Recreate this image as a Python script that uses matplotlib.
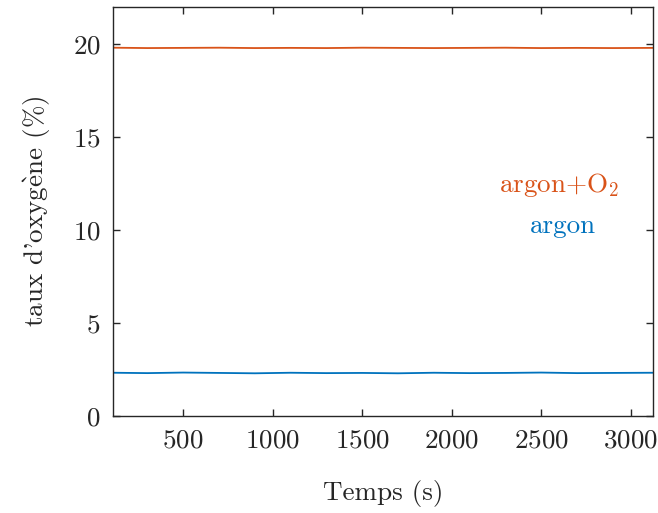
import matplotlib
matplotlib.use("Agg")
import matplotlib.pyplot as plt

plt.rcParams['font.family'] = 'serif'
plt.rcParams['font.serif'] = ['cmr10', 'DejaVu Serif']
plt.rcParams['mathtext.fontset'] = 'cm'
plt.rcParams['axes.formatter.use_mathtext'] = True

# temps (s) et taux d'oxygene (%)
t = [110, 300, 500, 700, 900, 1100, 1300, 1500, 1700, 1900, 2100, 2300, 2500, 2700, 2900, 3120]
argon_o2 = [19.82, 19.80, 19.81, 19.82, 19.80, 19.81, 19.80, 19.82, 19.81, 19.80, 19.81, 19.82, 19.80, 19.81, 19.80, 19.81]
argon = [2.33, 2.31, 2.34, 2.32, 2.30, 2.33, 2.31, 2.32, 2.30, 2.33, 2.31, 2.32, 2.34, 2.31, 2.32, 2.33]

blue = '#0072BD'
orange = '#D95319'
grey = '#262626'
fs = 19.5

fig = plt.figure(figsize=(6.58, 5.13), dpi=100)
ax = fig.add_axes([0.172, 0.189, 0.820, 0.797])

ax.plot(t, argon, color=blue, lw=1.3)
ax.plot(t, argon_o2, color=orange, lw=1.3)

ax.set_xlim(109, 3123)
ax.set_ylim(0, 22)
ax.set_xticks([500, 1000, 1500, 2000, 2500, 3000])
ax.set_yticks([0, 5, 10, 15, 20])

ax.text(2600, 12.45, r'argon+O$_2$', color=orange, fontsize=fs, ha='center', va='center')
ax.text(2620, 10.2, 'argon', color=blue, fontsize=fs, ha='center', va='center')

ax.set_xlabel('Temps (s)', fontsize=fs, color=grey, labelpad=20)
ax.set_ylabel(r"taux d'oxyg$\grave{\mathrm{e}}$ne (%)", fontsize=fs, color=grey, labelpad=14)

ax.tick_params(direction='in', top=True, right=True, length=5, width=1,
               labelsize=fs, colors=grey, pad=9)
for s in ax.spines.values():
    s.set_color(grey)
    s.set_linewidth(1)

fig.savefig('out.png', dpi=100)
